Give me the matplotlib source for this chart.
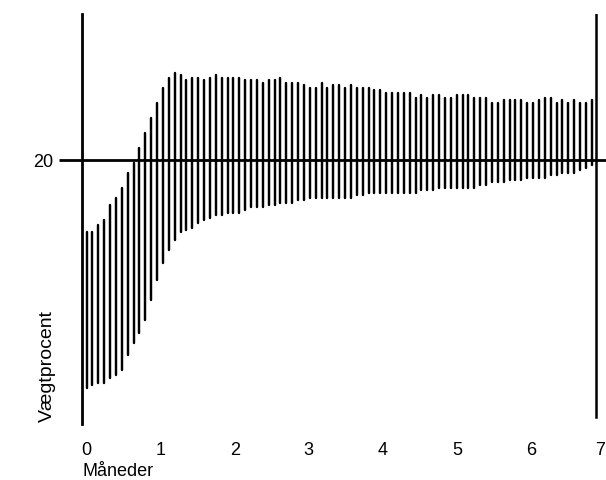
import numpy as np
import matplotlib
matplotlib.use("Agg")
import matplotlib.pyplot as plt

plt.rcParams['font.family'] = ['Liberation Sans', 'DejaVu Sans']

# Recorded strokes: upper and lower reading (Vægtprocent)
tops = [17.1, 17.1, 17.4, 17.6, 18.2, 18.5, 18.9, 19.5, 19.9, 20.5,
        21.1, 21.7, 22.3, 22.9, 23.3, 23.5, 23.4, 23.2, 23.3, 23.3,
        23.2, 23.3, 23.4, 23.3, 23.3, 23.3, 23.3, 23.2, 23.2, 23.2,
        23.1, 23.2, 23.2, 23.3, 23.1, 23.1, 23.1, 23.0, 22.9, 22.9,
        23.1, 22.9, 23.0, 23.0, 22.9, 23.0, 22.9, 22.9, 22.9, 22.8,
        22.8, 22.7, 22.7, 22.7,
        22.7, 22.7, 22.5, 22.6, 22.5, 22.6, 22.6, 22.5, 22.5, 22.6,
        22.6, 22.6, 22.5, 22.5, 22.5, 22.3, 22.3, 22.4, 22.4, 22.4,
        22.4, 22.3, 22.3, 22.4, 22.5, 22.5, 22.3, 22.4, 22.3, 22.4,
        22.3, 22.3, 22.4]
bottoms = [10.9, 11.0, 11.1, 11.1, 11.3, 11.4, 11.6, 12.2, 12.7, 13.1,
           13.6, 14.4, 15.2, 15.9, 16.4, 16.8, 17.1, 17.2, 17.3, 17.5,
           17.6, 17.7, 17.8, 17.8, 17.9, 17.9, 17.9, 18.0, 18.1, 18.1,
           18.1, 18.2, 18.2, 18.3, 18.3, 18.3, 18.4, 18.4, 18.5, 18.5,
           18.5, 18.5, 18.5, 18.5, 18.5, 18.5, 18.6, 18.6, 18.7, 18.7,
           18.7, 18.7, 18.7, 18.7,
           18.7, 18.7, 18.7, 18.8, 18.8, 18.8, 18.9, 18.9, 18.9, 18.9,
           18.9, 18.9, 18.9, 19.0, 19.0, 19.1, 19.1, 19.1, 19.2, 19.2,
           19.2, 19.3, 19.3, 19.3, 19.3, 19.4, 19.4, 19.5, 19.5, 19.5,
           19.6, 19.7, 19.8]
month_ticks = [0, 1, 2, 3, 4, 5, 6, 7]
ytick_vals = [20]
ytick_labels = ["20"]
xlabel = "Måneder"
ylabel = "Vægtprocent"

n = len(tops)
months = np.arange(n) * (6.82 / (n - 1))

W, H = 606, 481
fig = plt.figure(figsize=(W / 100, H / 100), dpi=100)

def px(x):
    return x / W

def py(y):
    return 1 - y / H

# axes: left edge at px 82, right at 606, top 15, bottom 425
top_px, bot_px = 15, 425
ax = fig.add_axes([px(82), py(bot_px), px(606 - 82), (bot_px - top_px) / H])
x0, mpx = 86.5, 74.1
ax.set_xlim((82 - x0) / mpx, (606 - x0) / mpx)
y20, vpx = 161, 25.0
ax.set_ylim(20 - (bot_px - y20) / vpx, 20 + (y20 - top_px) / vpx)

for s in ['top', 'bottom', 'right']:
    ax.spines[s].set_visible(False)
ax.spines['left'].set_linewidth(2.0)

ax.vlines(months, bottoms, tops, colors='black', linewidth=1.75, capstyle='round')
ax.axhline(20, color='black', linewidth=2.0)
ax.axvline((596 - x0) / mpx, ymin=(bot_px - 418) / (bot_px - top_px), ymax=1,
           color='black', linewidth=1.8)

ax.set_yticks(ytick_vals)
ax.set_yticklabels(ytick_labels, fontsize=13)
ax.tick_params(axis='y', length=16.5, width=2.0, pad=4)
ax.set_xticks(month_ticks)
ax.set_xticklabels([str(m) for m in month_ticks], fontsize=13)
ax.tick_params(axis='x', length=0, pad=12)
# last label sits at the right edge: align it to the right so it stays visible
ax.get_xticklabels()[-1].set_horizontalalignment('right')

fig.text(px(82), py(476), xlabel, fontsize=13, ha='left', va='baseline')
fig.text(px(47), py(366), ylabel, fontsize=14, rotation=90, ha='center', va='center')

fig.savefig("out.png", dpi=100)
